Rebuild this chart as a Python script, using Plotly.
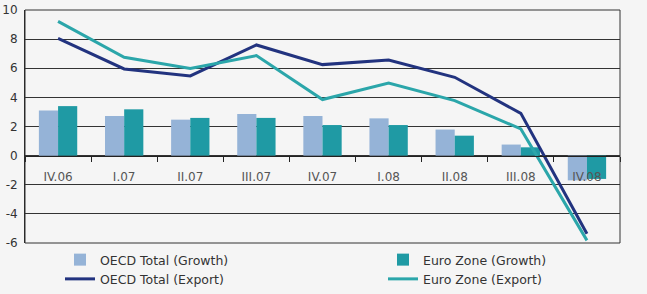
import plotly.graph_objects as go

categories = ["IV.06", "I.07", "II.07", "III.07", "IV.07", "I.08", "II.08", "III.08", "IV.08"]
oecd_growth = [3.1, 2.72, 2.47, 2.86, 2.72, 2.56, 1.79, 0.76, -1.7]
euro_growth = [3.4, 3.18, 2.59, 2.59, 2.1, 2.1, 1.37, 0.57, -1.6]
oecd_export = [8.05, 5.95, 5.47, 7.6, 6.25, 6.57, 5.38, 2.9, -5.37]
euro_export = [9.22, 6.75, 5.98, 6.87, 3.85, 4.99, 3.78, 1.83, -5.82]
y_ticks = [-6, -4, -2, 0, 2, 4, 6, 8, 10]
y_tick_labels = [str(v) for v in y_ticks]

C_OG = "#95b3d7"
C_EG = "#1f9aa4"
C_OE = "#22337f"
C_EE = "#2ba6aa"
BG = "#f5f5f5"
FONT = "DejaVu Sans"

fig = go.Figure()
fig.add_trace(go.Bar(x=categories, y=oecd_growth, name="OECD Total (Growth)",
                     marker=dict(color=C_OG, line=dict(width=0)), legend="legend"))
fig.add_trace(go.Bar(x=categories, y=euro_growth, name="Euro Zone (Growth)",
                     marker=dict(color=C_EG, line=dict(width=0)), legend="legend2"))
fig.add_trace(go.Scatter(x=categories, y=oecd_export, name="OECD Total (Export)",
                         mode="lines", line=dict(color=C_OE, width=3), legend="legend"))
fig.add_trace(go.Scatter(x=categories, y=euro_export, name="Euro Zone (Export)",
                         mode="lines", line=dict(color=C_EE, width=3), legend="legend2"))

legend_common = dict(orientation="v", xref="container", yref="container",
                     xanchor="left", yanchor="top", itemwidth=30,
                     traceorder="normal", bgcolor="rgba(0,0,0,0)",
                     font=dict(family="DejaVu Sans", size=12.5, color="#333"),
                     tracegroupgap=0)

ymin, ymax = -6, 10
fig.update_layout(
    width=647, height=294,
    margin=dict(l=25, r=27, t=10, b=51, autoexpand=False),
    paper_bgcolor=BG, plot_bgcolor=BG,
    barmode="group", bargap=0.42, bargroupgap=0,
    font=dict(family=FONT, color="#444", size=12),
    showlegend=True,
    legend=dict(legend_common, x=60/647, y=49/294),
    legend2=dict(legend_common, x=383/647, y=49/294),
    xaxis=dict(type="category", anchor="free",
               position=(0 - ymin) / (ymax - ymin),
               showline=True, linecolor="#222", linewidth=1,
               ticks="outside", ticklen=5, tickcolor="#222", tickson="boundaries",
               showgrid=False, ticklabelstandoff=10,
               tickfont=dict(family=FONT, size=12, color="#555")),
    yaxis=dict(range=[ymin, ymax], tickvals=y_ticks, ticktext=y_tick_labels,
               showgrid=True, gridcolor="#333", gridwidth=1, zeroline=False,
               showline=True, linecolor="#222", linewidth=1, ticks="",
               ticklabelstandoff=4,
               tickfont=dict(family=FONT, size=12, color="#333")),
    shapes=[dict(type="rect", xref="paper", yref="paper", x0=0, x1=1, y0=0, y1=1,
                 line=dict(color="#333", width=1), fillcolor="rgba(0,0,0,0)")],
)

fig.write_html("out.html")
